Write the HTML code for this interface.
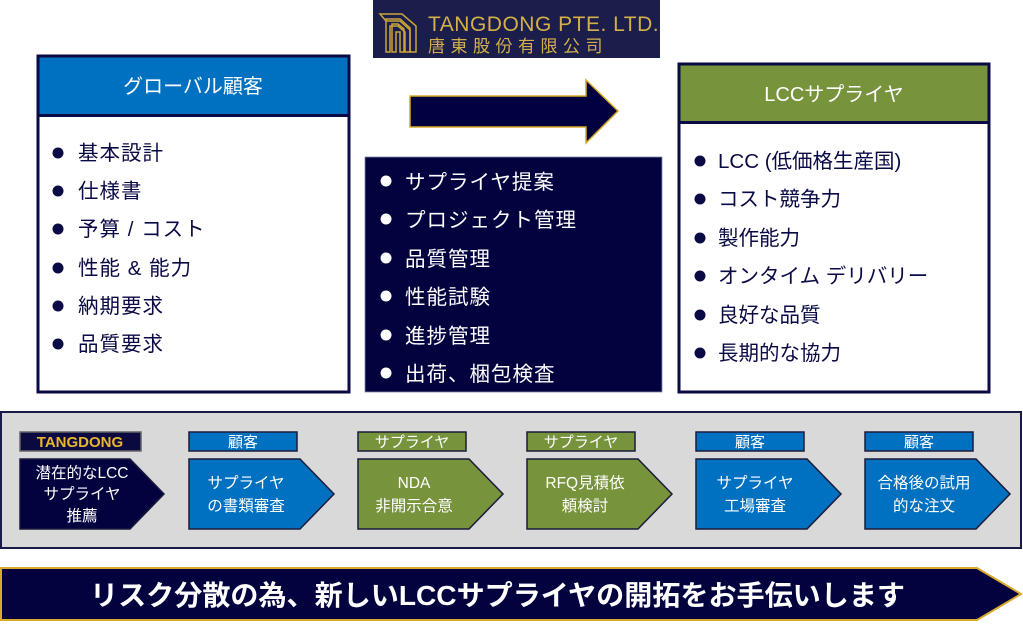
<!DOCTYPE html>
<html><head><meta charset="utf-8"><style>
html,body{margin:0;padding:0;background:#fff;}
svg{display:block;}
text{font-family:"Liberation Sans","Noto Sans CJK JP",sans-serif;}
</style></head><body>
<svg width="1023" height="634" viewBox="0 0 1023 634" xmlns="http://www.w3.org/2000/svg">
<!-- logo -->
<rect x="373" y="0" width="287" height="58" fill="#1b1e4b"/>
<g fill="none" stroke="#c9a43a" stroke-width="1.5">
<path d="M380 14 h22 l14 12 v26 h-6 v-22 l-10-9 h-14z"/>
<path d="M386 19 h14 l10 9 v24 h-5 v-20 l-7-6 h-8 v26 h-4z"/>
<path d="M392 24 h6 l6 5 v23 h-4 v-20 h-4 v20 h-4z"/>
</g>
<text x="428" y="31" font-size="21" fill="#d4b04a" letter-spacing="0.5">TANGDONG PTE. LTD.</text>
<text x="428" y="52" font-size="17" fill="#d4b04a" letter-spacing="5.5">唐東股份有限公司</text>

<!-- left box -->
<rect x="38" y="56" width="311" height="336" fill="#fff" stroke="#0a0a45" stroke-width="3"/>
<rect x="39.5" y="57.5" width="308" height="57" fill="#0070c0"/>
<line x1="38" y1="115.5" x2="349" y2="115.5" stroke="#0a0a45" stroke-width="3"/>
<text x="193" y="93" font-size="20" fill="#fff" text-anchor="middle">グローバル顧客</text>
<g fill="#0a0a45" font-size="20.5" letter-spacing="1">
<circle cx="58" cy="153" r="5.5"/><text x="78" y="160">基本設計</text>
<circle cx="58" cy="191" r="5.5"/><text x="78" y="198">仕様書</text>
<circle cx="58" cy="229" r="5.5"/><text x="78" y="236">予算 / コスト</text>
<circle cx="58" cy="268" r="5.5"/><text x="78" y="275">性能 &amp; 能力</text>
<circle cx="58" cy="306" r="5.5"/><text x="78" y="313">納期要求</text>
<circle cx="58" cy="344" r="5.5"/><text x="78" y="351">品質要求</text>
</g>

<!-- arrow -->
<path d="M410 96 H586 V80 L618 111 L586 143 V127 H410 Z" fill="#000040" stroke="#d9a92a" stroke-width="1.5"/>

<!-- middle box -->
<rect x="365" y="157" width="297" height="235" fill="#02023f" stroke="#8888aa" stroke-width="0.8"/>
<g fill="#fff" font-size="20.5" letter-spacing="1">
<circle cx="386" cy="181" r="5.5"/><text x="405" y="189">サプライヤ提案</text>
<circle cx="386" cy="219" r="5.5"/><text x="405" y="227">プロジェクト管理</text>
<circle cx="386" cy="258" r="5.5"/><text x="405" y="266">品質管理</text>
<circle cx="386" cy="296" r="5.5"/><text x="405" y="304">性能試験</text>
<circle cx="386" cy="335" r="5.5"/><text x="405" y="343">進捗管理</text>
<circle cx="386" cy="373" r="5.5"/><text x="405" y="381">出荷、梱包検査</text>
</g>

<!-- right box -->
<rect x="679" y="64" width="310" height="328" fill="#fff" stroke="#0a0a45" stroke-width="3"/>
<rect x="680.5" y="65.5" width="307" height="56" fill="#77933c"/>
<line x1="679" y1="122.5" x2="989" y2="122.5" stroke="#0a0a45" stroke-width="3"/>
<text x="834" y="101" font-size="20" fill="#fff" text-anchor="middle">LCCサプライヤ</text>
<g fill="#0a0a45" font-size="20.5">
<circle cx="700" cy="161" r="5.5"/><text x="718" y="168">LCC (低価格生産国)</text>
<circle cx="700" cy="199" r="5.5"/><text x="718" y="206">コスト競争力</text>
<circle cx="700" cy="238" r="5.5"/><text x="718" y="245">製作能力</text>
<circle cx="700" cy="276" r="5.5"/><text x="718" y="283">オンタイム デリバリー</text>
<circle cx="700" cy="315" r="5.5"/><text x="718" y="322">良好な品質</text>
<circle cx="700" cy="353" r="5.5"/><text x="718" y="360">長期的な協力</text>
</g>

<!-- process panel -->
<rect x="1" y="412" width="1020" height="136" fill="#d9d9d9" stroke="#1a1a4a" stroke-width="2"/>
<g stroke="#1a1a3a" stroke-width="1.5">
<rect x="20" y="432" width="121" height="19" fill="#0a0a40" stroke="#666"/>
<rect x="189" y="432" width="108" height="19" fill="#0070c0"/>
<rect x="358" y="432" width="108" height="19" fill="#77933c"/>
<rect x="527" y="432" width="108" height="19" fill="#77933c"/>
<rect x="696" y="432" width="108" height="19" fill="#0070c0"/>
<rect x="865" y="432" width="108" height="19" fill="#0070c0"/>
<path d="M20 459 H130 L164 494 L130 529 H20Z" fill="#02023f"/>
<path d="M189 459 H300 L334 494 L300 529 H189Z" fill="#0070c0"/>
<path d="M358 459 H469 L503 494 L469 529 H358Z" fill="#77933c"/>
<path d="M527 459 H638 L672 494 L638 529 H527Z" fill="#77933c"/>
<path d="M696 459 H807 L841 494 L807 529 H696Z" fill="#0070c0"/>
<path d="M865 459 H976 L1010 494 L976 529 H865Z" fill="#0070c0"/>
</g>
<g font-size="15" text-anchor="middle">
<text x="80" y="447" fill="#e8b530" font-weight="bold">TANGDONG</text>
<text x="243" y="447" fill="#fff">顧客</text>
<text x="412" y="447" fill="#fff">サプライヤ</text>
<text x="581" y="447" fill="#fff">サプライヤ</text>
<text x="750" y="447" fill="#fff">顧客</text>
<text x="919" y="447" fill="#fff">顧客</text>
</g>
<g font-size="15.5" fill="#fff" text-anchor="middle">
<text x="82" y="478">潜在的なLCC</text>
<text x="82" y="499">サプライヤ</text>
<text x="82" y="521">推薦</text>
<text x="246" y="488">サプライヤ</text>
<text x="246" y="511">の書類審査</text>
<text x="414" y="488">NDA</text>
<text x="414" y="511">非開示合意</text>
<text x="585" y="488">RFQ見積依</text>
<text x="585" y="511">頼検討</text>
<text x="755" y="488">サプライヤ</text>
<text x="755" y="511">工場審査</text>
<text x="924" y="488">合格後の試用</text>
<text x="924" y="511">的な注文</text>
</g>

<!-- banner -->
<path d="M1 568 H977 L1021 594 L977 620 H1 Z" fill="#02023f" stroke="#d9a92a" stroke-width="2"/>
<text x="90" y="605" font-size="28" fill="#fff" font-weight="bold" textLength="815" lengthAdjust="spacingAndGlyphs">リスク分散の為、新しいLCCサプライヤの開拓をお手伝いします</text>
</svg>
</body></html>
